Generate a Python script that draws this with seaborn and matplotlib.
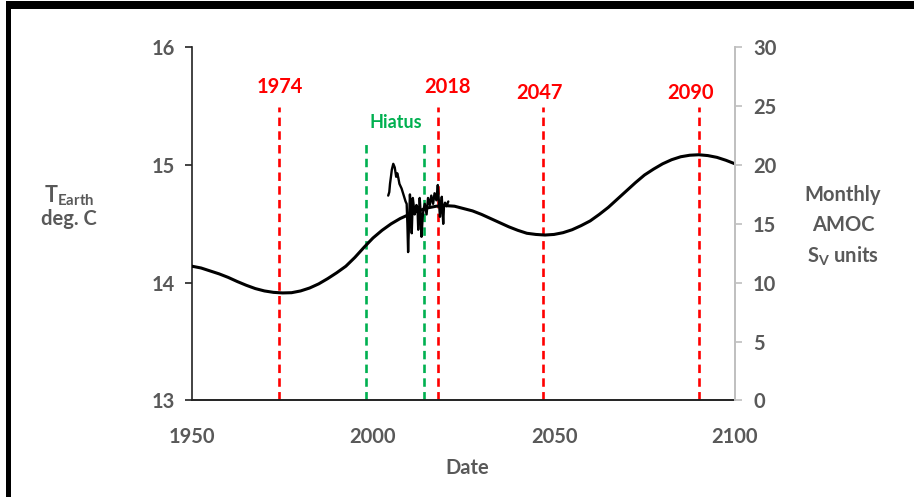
import numpy as np
import pandas as pd
import matplotlib
matplotlib.use("Agg")
import matplotlib.pyplot as plt
from matplotlib.patches import Rectangle
import seaborn as sns

# ---------------- data ----------------
years = [1950, 1952.5, 1955, 1957.5, 1960, 1962.5, 1965, 1967.5, 1970, 1972.5,
         1975, 1977.5, 1980, 1982.5, 1985, 1987.5, 1990, 1992.5, 1995, 1997.5,
         2000, 2002.5, 2005, 2007.5, 2010, 2012.5, 2015, 2017.5, 2020, 2022.5,
         2025, 2027.5, 2030, 2032.5, 2035, 2037.5, 2040, 2042.5, 2045, 2047.5,
         2050, 2052.5, 2055, 2057.5, 2060, 2062.5, 2065, 2067.5, 2070, 2072.5,
         2075, 2077.5, 2080, 2082.5, 2085, 2087.5, 2090, 2092.5, 2095, 2097.5,
         2100]
temp_earth = [14.14, 14.125, 14.10, 14.075, 14.045, 14.01, 13.978, 13.95, 13.93, 13.918,
              13.913, 13.915, 13.93, 13.955, 13.99, 14.035, 14.085, 14.14, 14.215, 14.3,
              14.38, 14.445, 14.50, 14.545, 14.58, 14.61, 14.635, 14.65, 14.655, 14.65,
              14.63, 14.61, 14.58, 14.545, 14.51, 14.475, 14.445, 14.42, 14.41, 14.405,
              14.41, 14.425, 14.45, 14.485, 14.525, 14.58, 14.64, 14.71, 14.78, 14.85,
              14.915, 14.965, 15.01, 15.045, 15.07, 15.083, 15.087, 15.08, 15.065, 15.04,
              15.01]

amoc_dates = [2004.2, 2004.5, 2004.7, 2005.0, 2005.2, 2005.6, 2006.0, 2006.4, 2006.7,
              2007.0, 2007.3, 2007.9, 2008.3, 2008.6, 2009.0, 2009.3, 2009.5, 2009.7,
              2010.0, 2010.2, 2010.5, 2010.7, 2011.0, 2011.3, 2011.5, 2012.0, 2012.3,
              2012.5, 2012.9, 2013.2, 2013.4, 2013.7, 2013.9, 2014.3, 2014.8, 2015.2,
              2015.7, 2016.1, 2016.6, 2017.0, 2017.5, 2017.9, 2018.1, 2018.5, 2018.8,
              2019.0, 2019.4, 2019.6, 2019.9, 2020.3, 2020.8]
amoc_sv = [17.4, 17.7, 18.4, 19.1, 19.6, 20.1, 19.8, 19.0, 19.3,
           18.9, 18.4, 18.0, 17.6, 17.3, 16.9, 16.7, 15.0, 12.6,
           15.5, 17.5, 16.0, 14.2, 17.2, 16.4, 15.8, 16.6, 16.3,
           14.5, 17.2, 15.8, 13.9, 15.5, 16.1, 16.7, 15.8, 17.2,
           16.6, 17.4, 16.7, 17.6, 17.0, 18.3, 17.4, 15.6, 16.6,
           17.3, 15.0, 16.5, 16.8, 16.5, 16.9]

red_years = [1974, 2018, 2047, 2090]
red_labels = ["1974", "2018", "2047", "2090"]
hiatus_years = [1998, 2014]
hiatus_label = "Hiatus"

x_ticks = [1950, 2000, 2050, 2100]
left_ticks = [13, 14, 15, 16]
right_ticks = [0, 5, 10, 15, 20, 25, 30]

# ---------------- style ----------------
sns.set_theme(style="white")
plt.rcParams["font.family"] = ["Lato", "DejaVu Sans"]
plt.rcParams["mathtext.fontset"] = "custom"
plt.rcParams["mathtext.rm"] = "Lato:bold"
plt.rcParams["mathtext.bf"] = "Lato:bold"
plt.rcParams["mathtext.it"] = "Lato:bold"

W, H = 914, 497
fig = plt.figure(figsize=(W / 100, H / 100), dpi=100)
ax = fig.add_axes([192 / W, 1 - 400.4 / H, (735 - 192) / W, (400.4 - 47.3) / H])
ax2 = ax.twinx()

grey_txt = "#595959"
fs = 14.5

temp_df = pd.DataFrame({"Date": years, "T": temp_earth})
amoc_df = pd.DataFrame({"Date": amoc_dates, "AMOC": amoc_sv})

# vertical dashed lines
for yr in red_years:
    ax.plot([yr, yr], [13, 15.49], color="#ff0000", lw=1.9, dashes=(3.2, 2.0),
            solid_capstyle="butt", zorder=2)
for yr in hiatus_years:
    ax.plot([yr, yr], [13, 15.21], color="#00b050", lw=1.9, dashes=(3.2, 2.0),
            zorder=2)

sns.lineplot(data=temp_df, x="Date", y="T", ax=ax, color="black", lw=2.2,
             zorder=3, legend=False)
sns.lineplot(data=amoc_df, x="Date", y="AMOC", ax=ax2, color="black", lw=1.7,
             zorder=3, legend=False)

# labels of vertical lines
label_pos = [(1974.3, 15.66), (2020.7, 15.66), (2046.0, 15.61), (2087.7, 15.61)]
for (lx, ly), lab in zip(label_pos, red_labels):
    ax.text(lx, ly, lab, color="#ff0000", fontsize=fs, fontweight="bold",
            ha="center", va="center")
ax.text(2006.2, 15.36, hiatus_label, color="#00b050", fontsize=fs - 1.5,
        fontweight="bold", ha="center", va="center")

# axes limits / ticks
ax.set_xlim(1950, 2100)
ax.set_ylim(13, 16)
ax2.set_ylim(0, 30)
ax.set_xticks(x_ticks)
ax.set_xticklabels([str(t) for t in x_ticks])
ax.set_yticks(left_ticks)
ax.set_yticklabels([str(t) for t in left_ticks])
ax2.set_yticks(right_ticks)
ax2.set_yticklabels([str(t) for t in right_ticks])
ax.set_xlabel("")
ax.set_ylabel("")
ax2.set_ylabel("")

for a in (ax, ax2):
    for s in a.spines.values():
        s.set_visible(False)
ax.spines["left"].set_visible(True)
ax.spines["left"].set_color("#222222")
ax.spines["left"].set_linewidth(1.2)
ax.spines["bottom"].set_visible(True)
ax.spines["bottom"].set_color("#222222")
ax.spines["bottom"].set_linewidth(1.4)
ax2.spines["right"].set_visible(True)
ax2.spines["right"].set_color("#bfbfbf")
ax2.spines["right"].set_linewidth(1.4)

ax.tick_params(axis="y", left=True, direction="out", length=5, width=1.2,
               color="#222222", labelsize=fs, labelcolor=grey_txt, pad=7)
ax.tick_params(axis="x", bottom=False, labelsize=fs, labelcolor=grey_txt, pad=13)
ax2.tick_params(axis="y", right=True, direction="out", length=5, width=1.2,
                color="#bfbfbf", labelsize=fs, labelcolor=grey_txt, pad=8)
for lab in ax.get_xticklabels() + ax.get_yticklabels() + ax2.get_yticklabels():
    lab.set_fontweight("bold")

# axis titles
def fx(px):
    return px / W

def fy(py):
    return 1 - py / H

fig.text(fx(467), fy(468), "Date", color=grey_txt, fontsize=fs, fontweight="bold",
         ha="center", va="center")
fig.text(fx(69), fy(196), r"$\mathbf{T_{Earth}}$", color=grey_txt, fontsize=fs + 1,
         ha="center", va="center")
fig.text(fx(69), fy(219), "deg. C", color=grey_txt, fontsize=fs, fontweight="bold",
         ha="center", va="center")
fig.text(fx(843), fy(195), "Monthly", color=grey_txt, fontsize=fs, fontweight="bold",
         ha="center", va="center")
fig.text(fx(843), fy(225), "AMOC", color=grey_txt, fontsize=fs, fontweight="bold",
         ha="center", va="center")
fig.text(fx(843), fy(256), r"$\mathbf{S_V}$ units", color=grey_txt, fontsize=fs,
         fontweight="bold", ha="center", va="center")

# outer frame (top and left thick border)
fig.add_artist(Rectangle((fx(6), fy(9)), 1 - fx(6), fy(1) - fy(9), transform=fig.transFigure,
                         facecolor="black", edgecolor="none"))
fig.add_artist(Rectangle((fx(6), 0), fx(11) - fx(6), fy(1), transform=fig.transFigure,
                         facecolor="black", edgecolor="none"))

fig.savefig("out.png", dpi=100, facecolor="white")
